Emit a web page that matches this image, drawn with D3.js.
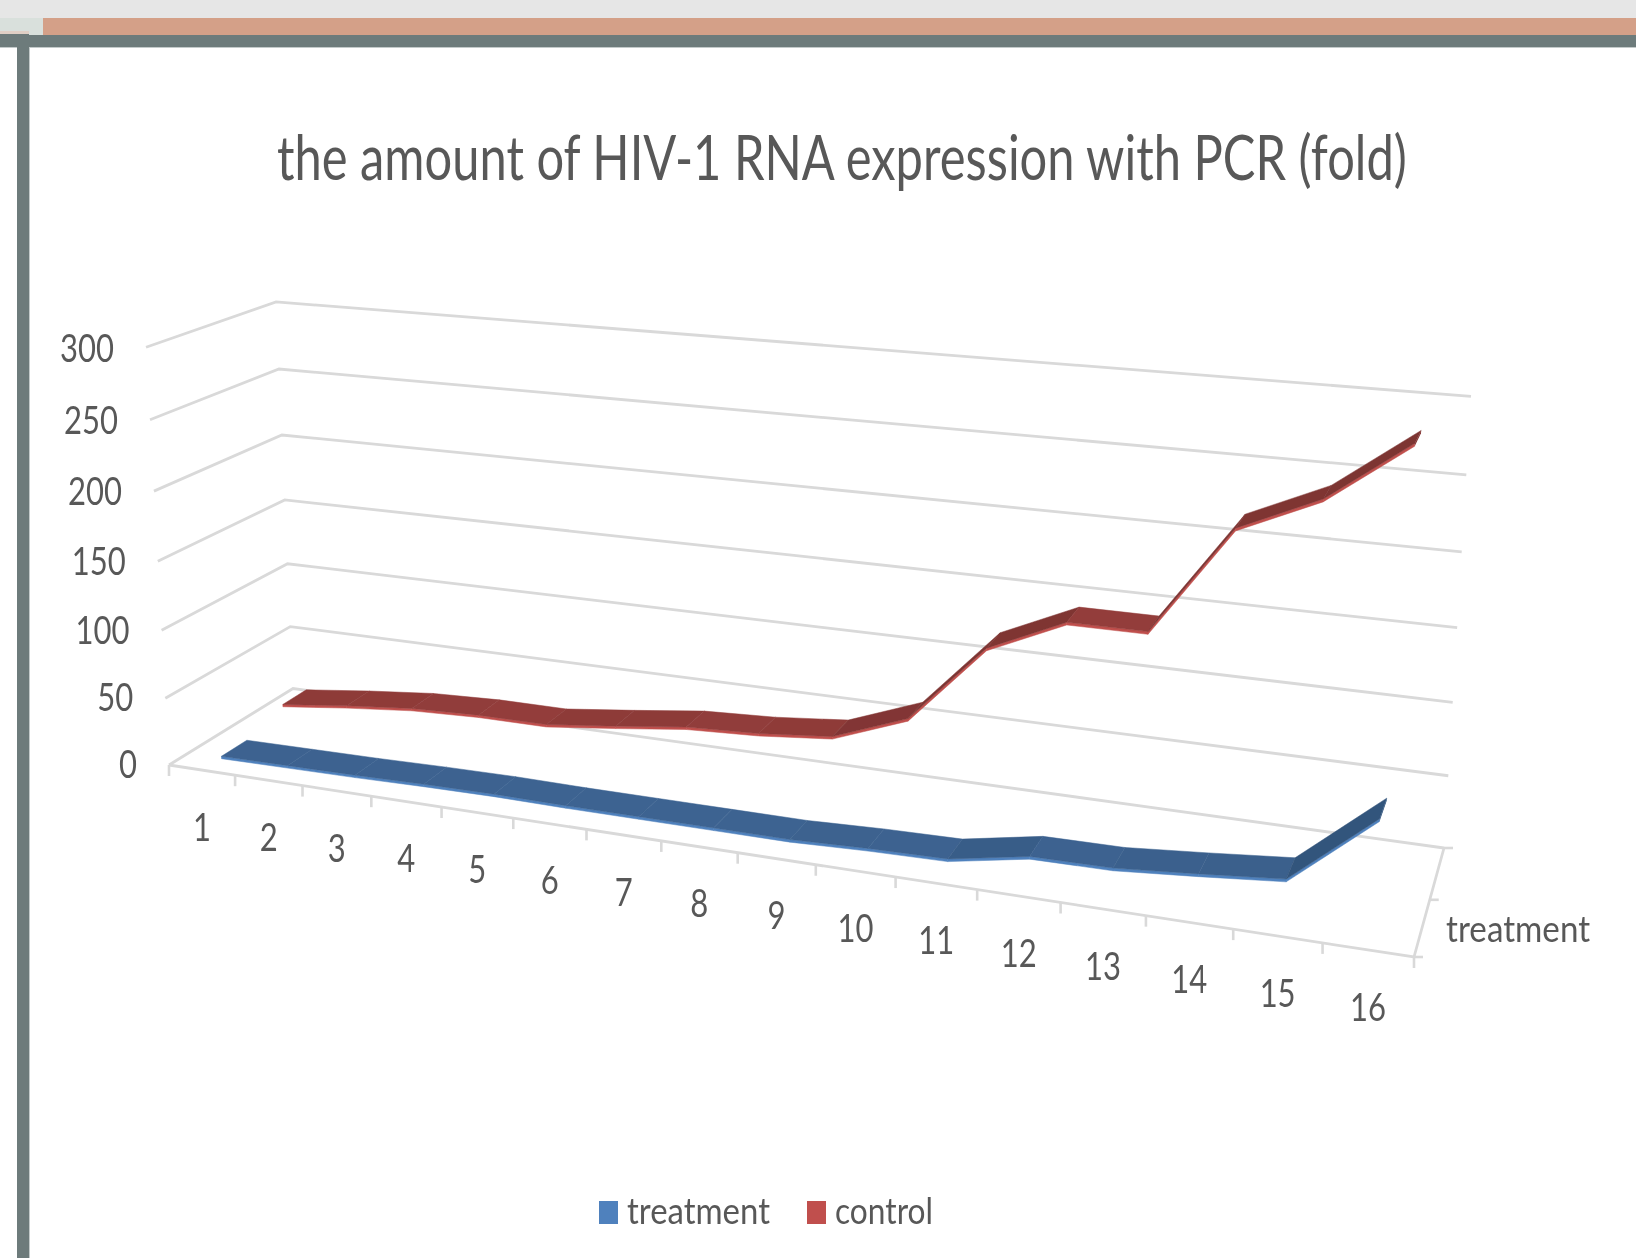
<!DOCTYPE html>
<html>
<head>
<meta charset="utf-8">
<style>
  html, body { margin: 0; padding: 0; background: #fff; }
  svg { display: block; }
  text { font-family: Lato, "Open Sans", sans-serif; font-weight: 400; fill: #595959; }
</style>
<script src="https://cdn.jsdelivr.net/npm/d3@7"></script>
</head>
<body>
<div id="chart"></div>
<script>
// values
const categories = d3.range(1, 17);
const treatmentValues = [1, 1.5, 2, 3, 3.5, 3, 3, 3, 3, 5, 6, 16, 16.5, 21, 26, 73];
const controlValues = [11, 17, 22, 24, 24, 30, 36.5, 39, 44, 64, 120, 144, 144, 218, 242, 282];
const yTicks = [0, 50, 100, 150, 200, 250, 300];
const seriesNames = ['treatment', 'control'];
const seriesColours = ['#4f81bd', '#c0504d'];

const width = 1636, height = 1258;

const svg = d3.select('#chart').append('svg')
  .attr('width', width)
  .attr('height', height);

svg.append('defs').append('filter')
  .attr('id', 'soft')
  .attr('filterUnits', 'userSpaceOnUse')
  .attr('x', 0).attr('y', 0).attr('width', width).attr('height', height)
  .append('feGaussianBlur').attr('stdDeviation', 0.7);

// slide frame behind the chart
const frame = svg.append('g');
const band = (x, y, w, h, fill) => frame.append('rect')
  .attr('x', x).attr('y', y).attr('width', w).attr('height', h).attr('fill', fill);
band(0, 0, width, 18, '#e6e6e6');
band(0, 18, 43, 17, '#d9e0dc');
band(43, 18, width - 43, 17, '#d4a088');
band(0, 31, 29, 3, '#e0cfc5');
band(0, 47, width, 1, '#c3caca');
band(29, 47, 1, height - 47, '#c3caca');
band(0, 35, width, 12, '#6d7b7b');
band(17, 34, 12, height - 34, '#6d7b7b');
band(0, 34, 29, 1, '#6d7b7b');

const root = svg.append('g').attr('filter', 'url(#soft)');

// floor corners on screen, u runs along categories, w runs into depth
const p00 = [169, 765], p10 = [1414, 957], p11 = [1444, 848], p01 = [293, 688.5];

const sx = p00[0] - p10[0] + p11[0] - p01[0];
const sy = p00[1] - p10[1] + p11[1] - p01[1];
const dx1 = p10[0] - p11[0], dx2 = p01[0] - p11[0];
const dy1 = p10[1] - p11[1], dy2 = p01[1] - p11[1];
const det = dx1 * dy2 - dx2 * dy1;
const g = (sx * dy2 - dx2 * sy) / det;
const h = (dx1 * sy - sx * dy1) / det;
const a = p10[0] - p00[0] + g * p10[0], b = p01[0] - p00[0] + h * p01[0];
const d = p10[1] - p00[1] + g * p10[1], e = p01[1] - p00[1] + h * p01[1];

const xScale = d3.scaleLinear().domain([0, categories.length]).range([0, 1]);
const yScale = d3.scaleLinear().domain([0, 300]).range([0, 1]);

// wall heights of the 300 line at three corners
const hFront = 417.7, hBack = 386.6, hRight = 451.6;
const hA = 1 / hFront, hC = 1 / hBack - hA, hB = 1 / hRight - hA - hC;

const project = (pos, w, value) => {
  const t = xScale(pos);
  const u = t + 0.0156 * t * (1 - t);
  const den = 1 + g * u + h * w;
  const fx = (a * u + b * w + p00[0]) / den;
  const fy = (d * u + e * w + p00[1]) / den;
  // upper gridlines sit slightly further apart than lower ones
  const yv = yScale(value);
  const lift = yv / (1 + 0.05 * (1 - yv)) / (hA + hB * u + hC * w);
  // verticals lean out a little, they meet far below the chart
  return [fx + (fx - 780) * 9e-5 * lift, fy - lift];
};

const line = d3.line();

// gridlines on left wall and back wall
const gridColour = '#d9d9d9';
const grid = root.append('g');
yTicks.forEach(v => {
  grid.append('path')
    .attr('d', line([project(0, 0, v), project(0, 1, v), project(16, 1, v)]))
    .attr('fill', 'none')
    .attr('stroke', gridColour)
    .attr('stroke-width', 2.8);
});

// floor edges
grid.append('path')
  .attr('d', line([project(0, 0, 0), project(16, 0, 0), project(16, 1, 0)]))
  .attr('fill', 'none')
  .attr('stroke', gridColour)
  .attr('stroke-width', 2.8);

// ticks on the front edge
d3.range(0, 17).forEach(i => {
  const p = project(i, 0, 0);
  grid.append('line')
    .attr('x1', p[0]).attr('y1', p[1])
    .attr('x2', p[0]).attr('y2', p[1] + 11)
    .attr('stroke', gridColour)
    .attr('stroke-width', 2.6);
});

// ticks on the depth edge
[0, 0.5, 1].forEach(w => {
  const p = project(16, w, 0);
  grid.append('line')
    .attr('x1', p[0]).attr('y1', p[1])
    .attr('x2', p[0] + 9).attr('y2', p[1])
    .attr('stroke', gridColour)
    .attr('stroke-width', 2.6);
});

// ribbons, back series first
const ribbonDepth = 0.2;
const ribbonDrop = 1.8;

const drawRibbon = (values, colour, wCentre) => {
  const w1 = wCentre - ribbonDepth / 2, w2 = wCentre + ribbonDepth / 2;
  const ribbon = root.append('g');
  const top = d3.color(colour).darker(0.75);
  values.forEach((v, i) => {
    if (i === values.length - 1) return;
    const next = values[i + 1];
    const rise = Math.max(0, next - v);
    // bottom face of the ribbon shows as a thin lighter edge
    ribbon.append('path')
      .attr('d', line([
        project(i + 0.5, w1, v),
        project(i + 1.5, w1, next),
        project(i + 1.5, w1, next - ribbonDrop),
        project(i + 0.5, w1, v - ribbonDrop)
      ]) + 'Z')
      .attr('fill', colour)
      .attr('stroke', colour)
      .attr('stroke-width', 0.5);
    // rising parts catch less light
    const shade = top.darker(Math.min(rise / 60, 0.45));
    ribbon.append('path')
      .attr('d', line([
        project(i + 0.5, w1, v),
        project(i + 1.5, w1, next),
        project(i + 1.5, w2, next),
        project(i + 0.5, w2, v)
      ]) + 'Z')
      .attr('fill', shade)
      .attr('stroke', shade)
      .attr('stroke-width', 0.5);
  });
  const last = values.length - 0.5;
  const vLast = values[values.length - 1];
  ribbon.append('path')
    .attr('d', line([
      project(last, w1, vLast),
      project(last, w2, vLast),
      project(last, w2, vLast - ribbonDrop),
      project(last, w1, vLast - ribbonDrop)
    ]) + 'Z')
    .attr('fill', top.darker(0.3));
};

drawRibbon(controlValues, seriesColours[1], 0.75);
drawRibbon(treatmentValues, seriesColours[0], 0.25);

// digits are narrower than Lato so squeeze them
const digitWidth = 18;

root.append('g').selectAll('text')
  .data(yTicks)
  .join('text')
    .attr('x', d => project(0, 0, d)[0] - 32)
    .attr('y', d => project(0, 0, d)[1] - 1 + d / 150)
    .attr('dy', '0.36em')
    .attr('text-anchor', 'end')
    .attr('font-size', 38)
    .attr('textLength', d => String(d).length * digitWidth)
    .attr('lengthAdjust', 'spacingAndGlyphs')
    .text(d => d);

root.append('g').selectAll('text')
  .data(categories)
  .join('text')
    .attr('x', (d, i) => project(i + 0.5, 0, 0)[0])
    .attr('y', (d, i) => project(i + 0.5, 0, 0)[1] + 57)
    .attr('dy', '0.36em')
    .attr('text-anchor', 'middle')
    .attr('font-size', 38)
    .attr('textLength', d => String(d).length * digitWidth)
    .attr('lengthAdjust', 'spacingAndGlyphs')
    .text(d => d);

// series name on the depth axis
const depthLabel = project(16, 0.25, 0);
root.append('text')
  .attr('x', depthLabel[0] + 24)
  .attr('y', depthLabel[1] + 1)
  .attr('dy', '0.36em')
  .attr('font-size', 37)
  .attr('textLength', 144)
  .attr('lengthAdjust', 'spacingAndGlyphs')
  .text(seriesNames[0]);

// title, squeezed sideways to the width of the original
const title = root.append('text')
  .attr('font-size', 62)
  .text('the amount of HIV-1 RNA expression with PCR (fold)');
const titleScale = 1130 / title.node().getComputedTextLength();
title.attr('transform', `translate(277, 180) scale(${titleScale}, 1)`);

// legend
const legendX = [599, 807];
const legendWidths = [143, 98];
const legend = root.append('g').selectAll('g')
  .data(seriesNames)
  .join('g')
    .attr('transform', (d, i) => `translate(${legendX[i]}, 1201)`);

legend.append('rect')
  .attr('width', 19)
  .attr('height', 23)
  .attr('fill', (d, i) => seriesColours[i]);

legend.append('text')
  .attr('x', 28)
  .attr('y', 23)
  .attr('font-size', 37)
  .attr('textLength', (d, i) => legendWidths[i])
  .attr('lengthAdjust', 'spacingAndGlyphs')
  .text(d => d);
</script>
</body>
</html>
